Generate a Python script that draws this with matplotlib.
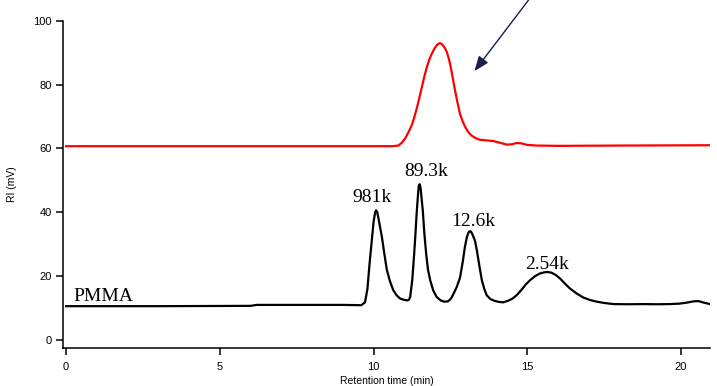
import matplotlib
matplotlib.use("Agg")
import matplotlib.pyplot as plt

# PMMA (black) trace: retention time (min) vs RI (mV)
black_t = [0, 3.0, 6.0, 6.2, 9.0, 9.60, 9.72, 9.80, 9.87, 9.94, 10.00, 10.05, 10.08, 10.12, 10.18,
           10.27, 10.35, 10.43, 10.53, 10.64, 10.75, 10.86, 10.98, 11.10, 11.15,
           11.19, 11.26, 11.32, 11.36, 11.40, 11.44, 11.47, 11.50, 11.53, 11.56, 11.60, 11.65,
           11.71, 11.77, 11.84, 11.94, 12.05, 12.18, 12.30, 12.42,
           12.52, 12.60, 12.70, 12.81, 12.90, 12.97, 13.04, 13.10, 13.15, 13.20, 13.26, 13.30,
           13.36, 13.41, 13.47, 13.52, 13.60, 13.68, 13.80, 13.95, 14.10, 14.22, 14.40, 14.52,
           14.65, 14.80, 14.95, 15.09, 15.25, 15.40, 15.55, 15.65, 15.78, 15.92, 16.06, 16.22,
           16.39, 16.60, 16.82, 17.05, 17.26, 17.50, 17.80, 18.30, 18.77, 19.20, 19.64, 19.95,
           20.18, 20.40, 20.56, 20.70, 20.94]
black_ri = [10.6, 10.6, 10.7, 11.0, 11.0, 10.9, 11.8, 16.0, 24.0, 31.0, 37.0, 40.0, 40.6, 40.0, 37.0,
            32.3, 27.0, 22.0, 18.5, 15.6, 14.0, 13.0, 12.6, 12.4, 12.6,
            13.5, 19.0, 27.0, 33.0, 39.6, 45.0, 48.3, 48.8, 47.5, 44.5, 40.6, 33.5,
            27.0, 22.0, 18.75, 15.5, 13.5, 12.4, 12.0, 12.1,
            13.0, 14.5, 16.5, 19.5, 24.5, 29.2, 32.5, 33.9, 34.1, 33.4, 32.0, 31.0,
            28.0, 25.0, 21.5, 18.75, 16.0, 14.0, 12.8, 12.2, 11.9, 11.8, 12.4, 13.0,
            14.0, 15.6, 17.4, 18.75, 20.0, 20.8, 21.2, 21.3, 21.1, 20.4, 19.3, 17.7,
            16.1, 14.6, 13.3, 12.5, 12.0, 11.6, 11.25, 11.2, 11.25, 11.2, 11.25, 11.4,
            11.7, 12.1, 12.2, 11.8, 11.25]

# Red trace
red_t = [0, 10.60, 10.81, 10.92, 11.02, 11.13, 11.24, 11.32, 11.40, 11.48, 11.57, 11.65, 11.73,
         11.81, 11.89, 11.98, 12.07, 12.16, 12.24, 12.31, 12.38, 12.45, 12.51, 12.58, 12.65,
         12.73, 12.81, 12.90, 12.98, 13.08, 13.19, 13.32, 13.46, 13.70, 13.90, 14.10, 14.33,
         14.50, 14.65, 14.80, 15.00, 15.30, 16.00, 18.00, 20.94]
red_ri = [60.7, 60.7, 60.9, 61.8, 63.0, 65.0, 67.2, 69.6, 72.4, 75.5, 79.2, 82.5, 85.4,
          87.8, 89.6, 91.3, 92.5, 93.0, 92.5, 91.6, 90.2, 88.0, 85.4, 81.8, 78.1,
          74.3, 70.8, 68.4, 66.7, 65.1, 64.0, 63.2, 62.7, 62.5, 62.3, 61.8, 61.2,
          61.3, 61.7, 61.6, 61.1, 60.9, 60.8, 60.9, 61.0]

peak_labels = ["981k", "89.3k", "12.6k", "2.54k"]
peak_label_t = [9.95, 11.72, 13.24, 15.64]
peak_label_ri = [43.1, 51.3, 35.6, 22.2]

x_ticks = [0, 5, 10, 15, 20]
y_ticks = [0, 20, 40, 60, 80, 100]

fig = plt.figure(figsize=(7.17, 3.86), dpi=100)
ax = fig.add_axes([63/717, (386-348)/386, (710-63)/717, (348-20.7)/386])

ax.plot(black_t, black_ri, color="black", lw=1.6, solid_joinstyle="round")
ax.plot(red_t, red_ri, color="#ff0000", lw=1.6, solid_joinstyle="round")

for lab, t, r in zip(peak_labels, peak_label_t, peak_label_ri):
    ax.text(t, r, lab, ha="center", va="baseline", fontsize=14, family="Liberation Serif")
ax.text(0.23, 12.2, "PMMA", ha="left", va="baseline", fontsize=14, family="Liberation Serif")

ax.annotate("", xy=(13.28, 84.2), xytext=(15.12, 107.5), annotation_clip=False,
            arrowprops=dict(arrowstyle="-|>,head_length=0.9,head_width=0.35",
                            color="#1c1c50", lw=1.0, shrinkA=0, shrinkB=0))

ax.set_xlim(-0.1, 20.94)
ax.set_ylim(-2.5, 100)
ax.set_xticks(x_ticks)
ax.set_yticks(y_ticks)
for s in ["top", "right"]:
    ax.spines[s].set_visible(False)
for s in ["left", "bottom"]:
    ax.spines[s].set_linewidth(1.1)
ax.spines["left"].set_bounds(-2.5, 100)
ax.tick_params(axis="both", direction="out", length=5, width=1.1, labelsize=8)
ax.tick_params(axis="x", pad=5)
ax.tick_params(axis="y", pad=3)
for lab in ax.get_xticklabels() + ax.get_yticklabels():
    lab.set_family("Liberation Sans")
ax.set_xlabel("Retention time (min)", fontsize=7.5, family="Liberation Sans", labelpad=3)
ax.set_ylabel("RI (mV)", fontsize=7.5, family="Liberation Sans", labelpad=12)

fig.savefig("out.png", dpi=100)
